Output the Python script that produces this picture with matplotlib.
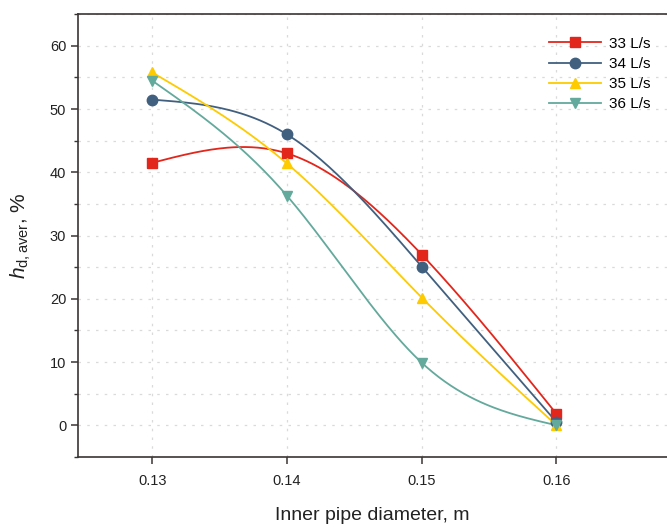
import numpy as np
import matplotlib
matplotlib.use("Agg")
import matplotlib.pyplot as plt
from matplotlib.ticker import MultipleLocator

plt.rcParams['font.family'] = ['Liberation Sans', 'DejaVu Sans']
plt.rcParams['mathtext.fontset'] = 'custom'
plt.rcParams['mathtext.rm'] = 'Liberation Sans'
plt.rcParams['mathtext.it'] = 'Liberation Sans:italic'

diameters = [0.13, 0.14, 0.15, 0.16]
labels = ['33 L/s', '34 L/s', '35 L/s', '36 L/s']
q33 = [41.5, 43.0, 27.0, 1.8]
q34 = [51.5, 46.0, 25.1, 0.5]
q35 = [55.8, 41.4, 20.2, 0.0]
q36 = [54.5, 36.3, 9.9, 0.0]
series = [q33, q34, q35, q36]
colors = ['#e2261c', '#41607f', '#fdcb00', '#63a99c']
markers = ['s', 'o', '^', 'v']


def natural_spline(x, y, n=200):
    x = np.asarray(x, float)
    y = np.asarray(y, float)
    k = len(x)
    h = np.diff(x)
    A = np.zeros((k, k))
    b = np.zeros(k)
    A[0, 0] = 1
    A[-1, -1] = 1
    for i in range(1, k - 1):
        A[i, i - 1] = h[i - 1]
        A[i, i] = 2 * (h[i - 1] + h[i])
        A[i, i + 1] = h[i]
        b[i] = 6 * ((y[i + 1] - y[i]) / h[i] - (y[i] - y[i - 1]) / h[i - 1])
    M = np.linalg.solve(A, b)
    xs = np.linspace(x[0], x[-1], n)
    ys = np.empty_like(xs)
    for j, xv in enumerate(xs):
        i = min(np.searchsorted(x, xv, side='right') - 1, k - 2)
        t1 = x[i + 1] - xv
        t2 = xv - x[i]
        ys[j] = (M[i] * t1 ** 3 / (6 * h[i]) + M[i + 1] * t2 ** 3 / (6 * h[i])
                 + (y[i] / h[i] - M[i] * h[i] / 6) * t1
                 + (y[i + 1] / h[i] - M[i + 1] * h[i] / 6) * t2)
    return xs, ys


fig = plt.figure(figsize=(6.67, 5.27), dpi=100)
ax = fig.add_axes([0.117, 0.133, 0.883, 0.840])

for vals, c, m, lab in zip(series, colors, markers, labels):
    xs, ys = natural_spline(diameters, vals)
    ax.plot(xs, ys, color=c, lw=1.3, zorder=3)
    ax.plot(diameters, vals, linestyle='none', marker=m, color=c, ms=7.5, zorder=4)
    ax.plot([], [], color=c, lw=1.3, marker=m, ms=7.5, label=lab)

ax.set_xlim(0.1245, 0.1682)
ax.set_ylim(-5, 65)
ax.set_xticks(diameters)
ax.set_xticklabels(['0.13', '0.14', '0.15', '0.16'])
ax.yaxis.set_major_locator(MultipleLocator(10))
ax.yaxis.set_minor_locator(MultipleLocator(5))
ax.set_yticks([0, 10, 20, 30, 40, 50, 60])

ax.grid(True, which='both', axis='y', color='#dadada', linestyle=(0, (2, 5)), lw=0.9)
ax.grid(True, which='major', axis='x', color='#dadada', linestyle=(0, (2, 5)), lw=0.9)
ax.set_axisbelow(True)

for s in ['left', 'bottom', 'top']:
    ax.spines[s].set_color('#3a3535')
    ax.spines[s].set_linewidth(1.2)
ax.spines['right'].set_visible(False)

ax.tick_params(axis='both', which='major', direction='out', length=5, width=1.1,
               color='#3a3535', labelsize=10.5, labelcolor='#222222')
ax.tick_params(axis='y', which='minor', direction='out', length=3, width=1.0, color='#3a3535')
ax.tick_params(axis='x', which='major', pad=7)

ax.set_xlabel('Inner pipe diameter, m', fontsize=14, color='#222222', labelpad=14)
ax.set_ylabel(r'$h_{\mathrm{d,aver}}$, %', fontsize=15, color='#222222', labelpad=12)

leg = ax.legend(loc='upper right', bbox_to_anchor=(0.995, 0.98), frameon=False,
                fontsize=11, handlelength=3.4, labelspacing=0.4, handletextpad=0.5)

fig.savefig('out.png', dpi=100)
